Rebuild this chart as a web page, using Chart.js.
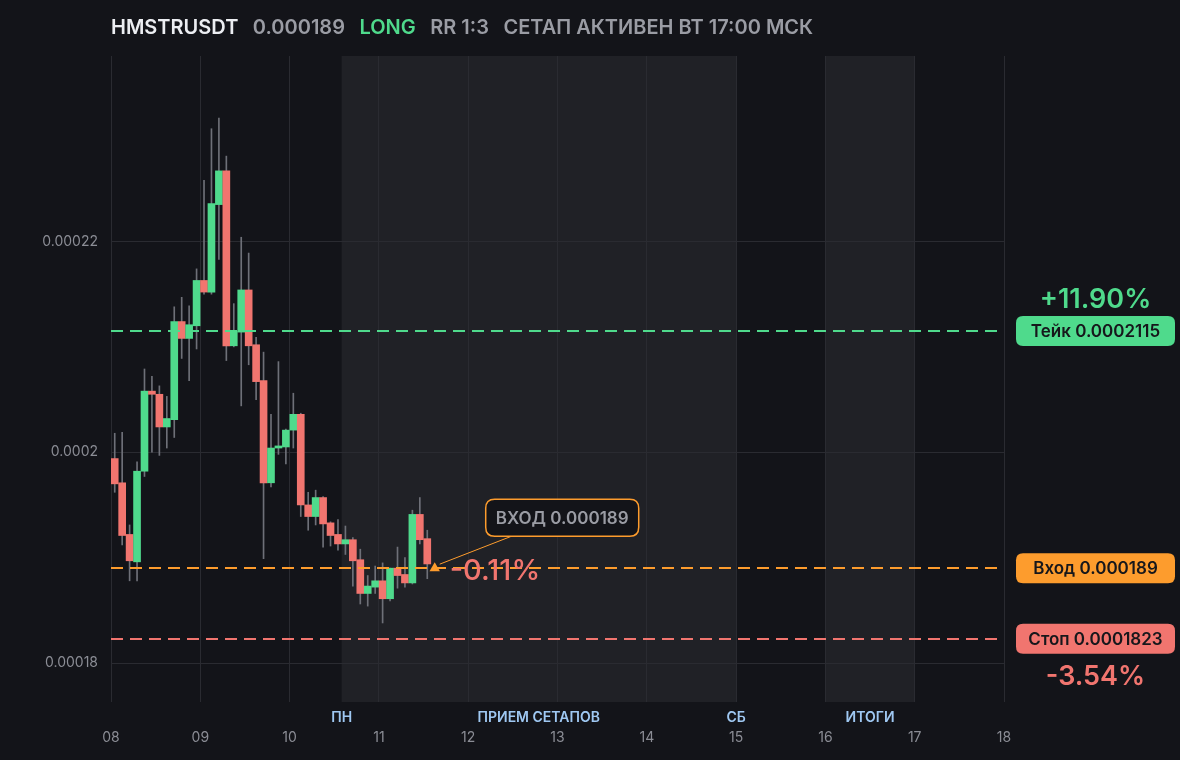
<!DOCTYPE html>
<html>
<head>
<meta charset="utf-8">
<script src="https://cdn.jsdelivr.net/npm/chart.js@4/dist/chart.umd.min.js"></script>
<style>
  html, body { margin: 0; padding: 0; background: #131419; }
  #wrap { width: 1180px; height: 760px; position: relative; }
</style>
</head>
<body>
<div id="wrap"><canvas id="chart"></canvas></div>
<script>
// свечи 2ч, значения
const openPrices  = [199.4e-6, 197.1e-6, 192.2e-6, 189.6e-6, 198.2e-6, 205.8e-6, 205.5e-6, 202.4e-6, 203.1e-6, 212.4e-6,
                     210.8e-6, 212.0e-6, 216.3e-6, 215.2e-6, 223.5e-6, 226.7e-6, 210.1e-6, 211.4e-6, 215.4e-6, 210.2e-6,
                     206.8e-6, 197.1e-6, 200.4e-6, 200.5e-6, 202.1e-6, 203.6e-6, 195.0e-6, 193.9e-6, 195.7e-6, 193.3e-6,
                     192.2e-6, 191.3e-6, 191.7e-6, 189.8e-6, 186.6e-6, 187.2e-6, 187.8e-6, 186.1e-6, 189.0e-6, 188.4e-6,
                     187.6e-6, 194.1e-6, 191.8e-6];
const highPrices  = [201.8e-6, 201.9e-6, 193.1e-6, 199.1e-6, 207.9e-6, 207.2e-6, 206.3e-6, 205.3e-6, 213.8e-6, 214.7e-6,
                     213.9e-6, 217.4e-6, 225.8e-6, 230.7e-6, 231.7e-6, 228.1e-6, 214.1e-6, 220.4e-6, 218.9e-6, 210.9e-6,
                     209.5e-6, 203.6e-6, 208.6e-6, 202.2e-6, 205.6e-6, 203.7e-6, 196.2e-6, 196.4e-6, 195.8e-6, 193.4e-6,
                     193.6e-6, 193.0e-6, 191.9e-6, 190.8e-6, 188.3e-6, 189.2e-6, 189.5e-6, 189.0e-6, 191.0e-6, 190.0e-6,
                     194.5e-6, 195.7e-6, 192.6e-6];
const lowPrices   = [196.2e-6, 191.2e-6, 187.8e-6, 187.8e-6, 197.7e-6, 200.0e-6, 199.7e-6, 200.4e-6, 201.4e-6, 208.9e-6,
                     206.8e-6, 209.8e-6, 215.0e-6, 215.0e-6, 218.3e-6, 208.7e-6, 210.0e-6, 204.4e-6, 208.3e-6, 205.0e-6,
                     189.9e-6, 196.7e-6, 199.8e-6, 198.9e-6, 200.4e-6, 193.9e-6, 192.6e-6, 193.1e-6, 191.0e-6, 191.1e-6,
                     190.7e-6, 190.3e-6, 187.3e-6, 185.6e-6, 185.4e-6, 186.6e-6, 183.8e-6, 185.9e-6, 187.1e-6, 187.2e-6,
                     187.5e-6, 191.3e-6, 188.0e-6];
const closePrices = [197.0e-6, 192.1e-6, 189.7e-6, 198.2e-6, 205.8e-6, 205.5e-6, 202.4e-6, 203.2e-6, 212.4e-6, 210.8e-6,
                     212.1e-6, 216.3e-6, 215.2e-6, 223.6e-6, 226.7e-6, 210.1e-6, 211.5e-6, 215.4e-6, 210.1e-6, 206.7e-6,
                     197.1e-6, 200.4e-6, 200.6e-6, 202.1e-6, 203.6e-6, 195.0e-6, 193.9e-6, 195.7e-6, 193.2e-6, 192.1e-6,
                     191.3e-6, 191.7e-6, 189.7e-6, 186.6e-6, 187.3e-6, 187.8e-6, 186.1e-6, 189.0e-6, 188.3e-6, 187.6e-6,
                     194.1e-6, 191.7e-6, 189.4e-6];

const firstDay = 8;          // ось X в днях месяца
const candleHours = 2;

const xTickValues = [8, 9, 10, 11, 12, 13, 14, 15, 16, 17, 18];
const xTickLabels = ['08', '09', '10', '11', '12', '13', '14', '15', '16', '17', '18'];
const yTickValues = [0.00018, 0.0002, 0.00022];
const yTickLabels = ['0.00018', '0.0002', '0.00022'];

// уровни сетапа
const levelNames  = ['Тейк', 'Вход', 'Стоп'];
const levelPrices = [0.0002115, 0.000189, 0.0001823];
const levelPills  = ['Тейк 0.0002115', 'Вход 0.000189', 'Стоп 0.0001823'];
const levelPct    = ['+11.90%', '', '-3.54%'];

// зоны недели
const zoneStart  = [10.583, 16];
const zoneEnd    = [15, 17];
const zoneLabels = ['ПН', 'ПРИЕМ СЕТАПОВ', 'СБ', 'ИТОГИ'];
const zoneLabelX = [10.583, 12.79, 15, 16.5];

const titleParts  = ['HMSTRUSDT', '0.000189', 'LONG', 'RR 1:3', 'СЕТАП АКТИВЕН ВТ 17:00 МСК'];
const entryNote   = 'ВХОД 0.000189';
const entryChange = '-0.11%';

const GREEN = '#4fda8c';
const RED = '#f1756f';
const ORANGE = '#fd9c2d';
const BG = '#131419';
const ZONE = '#202126';
const GRID = '#2a2b31';
const MUTED = '#9a9ca4';
const FONT = 'Inter, "Noto Sans", sans-serif';

const candleTimes = openPrices.map((_, i) => firstDay + (i + 0.5) * candleHours / 24);
const markerTime = firstDay + (openPrices.length + 0.5) * candleHours / 24;
const levelColors = [GREEN, ORANGE, RED];

function roundRect(ctx, x, y, w, h, r) {
    ctx.beginPath();
    ctx.moveTo(x + r, y);
    ctx.lineTo(x + w - r, y);
    ctx.quadraticCurveTo(x + w, y, x + w, y + r);
    ctx.lineTo(x + w, y + h - r);
    ctx.quadraticCurveTo(x + w, y + h, x + w - r, y + h);
    ctx.lineTo(x + r, y + h);
    ctx.quadraticCurveTo(x, y + h, x, y + h - r);
    ctx.lineTo(x, y + r);
    ctx.quadraticCurveTo(x, y, x + r, y);
    ctx.closePath();
}

// фон зон до сетки
const zonesPlugin = {
    id: 'zones',
    beforeDraw(chart) {
        const { ctx, chartArea, scales } = chart;
        ctx.save();
        ctx.fillStyle = ZONE;
        for (let i = 0; i < zoneStart.length; i++) {
            const x1 = scales.x.getPixelForValue(zoneStart[i]);
            const x2 = scales.x.getPixelForValue(zoneEnd[i]);
            ctx.fillRect(x1, chartArea.top, x2 - x1, chartArea.bottom - chartArea.top);
        }
        ctx.restore();
    }
};

const levelsPlugin = {
    id: 'levels',
    afterDatasetsDraw(chart) {
        const { ctx, chartArea, scales } = chart;
        ctx.save();
        // пунктирные уровни
        ctx.lineWidth = 2;
        ctx.setLineDash([12, 7]);
        levelPrices.forEach((p, i) => {
            const y = Math.round(scales.y.getPixelForValue(p));
            ctx.strokeStyle = levelColors[i];
            ctx.beginPath();
            ctx.moveTo(chartArea.left, y);
            ctx.lineTo(chartArea.right, y);
            ctx.stroke();
        });
        ctx.setLineDash([]);

        // плашки справа
        const pillX = chartArea.right + 12;
        const pillW = 159;
        const pillH = 30;
        ctx.textAlign = 'center';
        ctx.textBaseline = 'middle';
        levelPrices.forEach((p, i) => {
            const y = scales.y.getPixelForValue(p);
            ctx.fillStyle = levelColors[i];
            roundRect(ctx, pillX, y - pillH / 2, pillW, pillH, 7);
            ctx.fill();
            ctx.fillStyle = '#16171b';
            ctx.font = '600 17px ' + FONT;
            ctx.fillText(levelPills[i], pillX + pillW / 2, y + 1);
            if (levelPct[i]) {
                ctx.fillStyle = levelColors[i];
                ctx.font = '600 27px ' + FONT;
                const dy = i === 0 ? -31 : 38;
                ctx.fillText(levelPct[i], pillX + pillW / 2, y + dy);
            }
        });

        // подпись входа
        const mx = scales.x.getPixelForValue(markerTime);
        const my = scales.y.getPixelForValue(levelPrices[1]);
        const bx = mx + 51, by = my - 69, bw = 153, bh = 37;
        ctx.strokeStyle = ORANGE;
        ctx.lineWidth = 1;
        ctx.beginPath();
        ctx.moveTo(mx + 5, my - 4);
        ctx.lineTo(bx + 26, by + bh);
        ctx.stroke();
        ctx.fillStyle = BG;
        roundRect(ctx, bx, by, bw, bh, 9);
        ctx.fill();
        ctx.lineWidth = 1.5;
        ctx.stroke();
        ctx.fillStyle = MUTED;
        ctx.font = '600 17px ' + FONT;
        ctx.fillText(entryNote, bx + bw / 2, by + bh / 2 + 1);

        ctx.textAlign = 'left';
        ctx.fillStyle = RED;
        ctx.font = '500 29px ' + FONT;
        ctx.fillText(entryChange, mx + 15, my + 3);
        ctx.restore();
    }
};

const textPlugin = {
    id: 'texts',
    afterDraw(chart) {
        const { ctx, chartArea, scales } = chart;
        ctx.save();
        // заголовок
        const colors = ['#eceef2', MUTED, GREEN, MUTED, MUTED];
        ctx.font = '600 20px ' + FONT;
        ctx.textBaseline = 'middle';
        ctx.textAlign = 'left';
        let x = chartArea.left;
        titleParts.forEach((t, i) => {
            ctx.fillStyle = colors[i];
            ctx.fillText(t, x, 28);
            x += ctx.measureText(t).width + 14.5;
        });
        // подписи зон
        ctx.font = '600 14px ' + FONT;
        ctx.fillStyle = '#9fc8f2';
        ctx.textAlign = 'center';
        zoneLabels.forEach((t, i) => {
            ctx.fillText(t, scales.x.getPixelForValue(zoneLabelX[i]), chartArea.bottom + 16);
        });
        ctx.restore();
    }
};

const ctx = document.getElementById('chart').getContext('2d');
const chart = new Chart(ctx, {
    type: 'bar',
    data: {
        datasets: [
            {
                type: 'scatter',
                label: 'entry',
                data: [{ x: markerTime, y: levelPrices[1] }],
                pointStyle: 'triangle',
                radius: 6,
                backgroundColor: ORANGE,
                borderWidth: 0,
                order: -1
            },
            {
                label: 'body',
                data: candleTimes.map((t, i) => ({ x: t, y: [openPrices[i], closePrices[i]] })),
                backgroundColor: (c) => closePrices[c.dataIndex] >= openPrices[c.dataIndex] ? GREEN : RED,
                barThickness: 7,
                minBarLength: 1,
                grouped: false,
                order: 0
            },
            {
                label: 'wick',
                data: candleTimes.map((t, i) => ({ x: t, y: [lowPrices[i], highPrices[i]] })),
                backgroundColor: '#6e7078',
                barThickness: 1,
                grouped: false,
                order: 1
            }
        ]
    },
    options: {
        responsive: true,
        maintainAspectRatio: false,
        animation: false,
        layout: { padding: { top: 56, right: 176, left: 0, bottom: 0 } },
        plugins: {
            legend: { display: false },
            tooltip: { enabled: false }
        },
        scales: {
            x: {
                type: 'linear',
                min: 8,
                max: 18,
                offset: false,
                grid: { color: GRID, offset: false, drawTicks: false },
                border: { display: false },
                afterBuildTicks: (s) => { s.ticks = xTickValues.map(v => ({ value: v })); },
                afterFit: (s) => { s.height = 58; },
                ticks: {
                    color: '#8b8d95',
                    font: { family: FONT, size: 14 },
                    padding: 27,
                    maxRotation: 0,
                    autoSkip: false,
                    callback: (v) => xTickLabels[xTickValues.indexOf(v)]
                }
            },
            y: {
                type: 'linear',
                min: 0.0001763,
                max: 0.0002376,
                grid: { color: GRID, drawTicks: false },
                border: { display: false },
                afterBuildTicks: (s) => { s.ticks = yTickValues.map(v => ({ value: v })); },
                afterFit: (s) => { s.width = 111; },
                ticks: {
                    color: '#8b8d95',
                    font: { family: FONT, size: 14 },
                    padding: 13,
                    callback: (v) => yTickLabels[yTickValues.indexOf(v)]
                }
            }
        }
    },
    plugins: [zonesPlugin, levelsPlugin, textPlugin]
});
</script>
</body>
</html>
